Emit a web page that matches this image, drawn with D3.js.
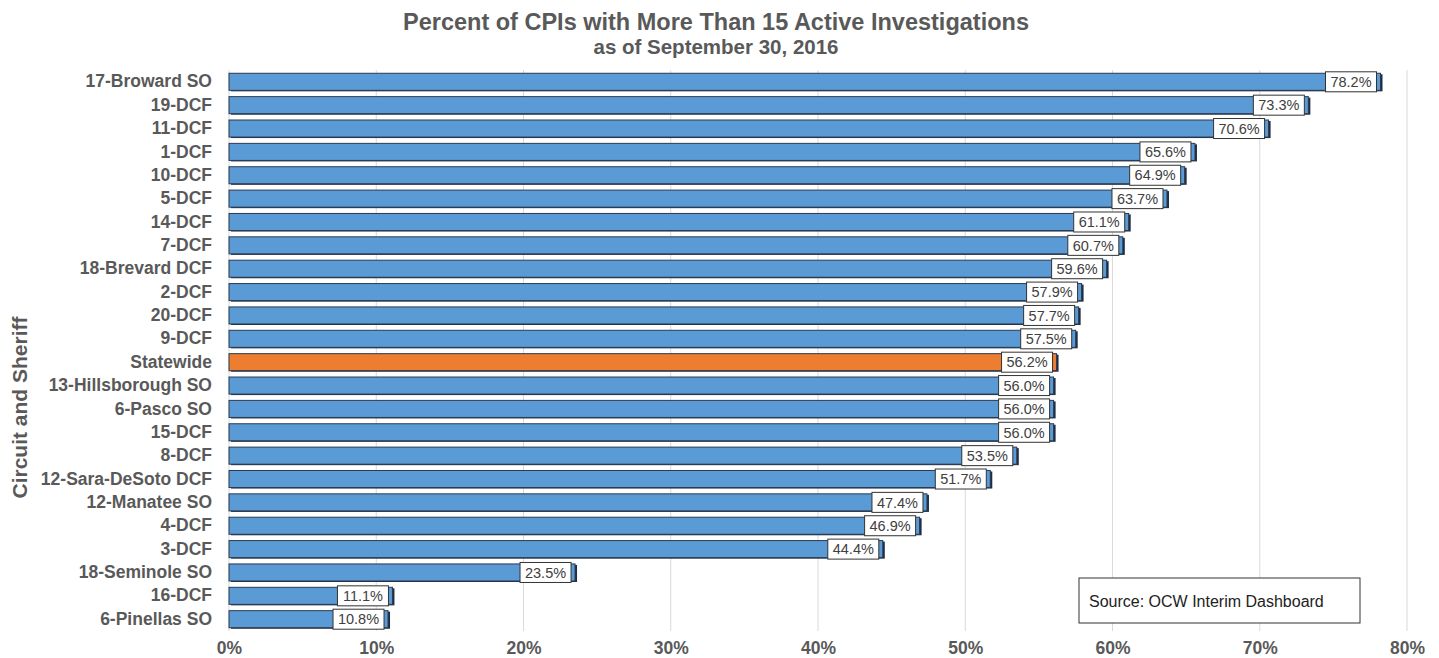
<!DOCTYPE html>
<html>
<head>
<meta charset="utf-8">
<script src="https://cdn.jsdelivr.net/npm/d3@7"></script>
<style>
  body { margin: 0; background: #fff; }
  text { font-family: Arial, "Liberation Sans", sans-serif; }
</style>
</head>
<body>
<div id="chart"></div>
<script>
const categories = [
    '17-Broward SO', '19-DCF', '11-DCF', '1-DCF', '10-DCF', '5-DCF', '14-DCF', '7-DCF',
    '18-Brevard DCF', '2-DCF', '20-DCF', '9-DCF', 'Statewide', '13-Hillsborough SO',
    '6-Pasco SO', '15-DCF', '8-DCF', '12-Sara-DeSoto DCF', '12-Manatee SO', '4-DCF',
    '3-DCF', '18-Seminole SO', '16-DCF', '6-Pinellas SO'
];
const values = [
    78.2, 73.3, 70.6, 65.6, 64.9, 63.7, 61.1, 60.7,
    59.6, 57.9, 57.7, 57.5, 56.2, 56.0,
    56.0, 56.0, 53.5, 51.7, 47.4, 46.9,
    44.4, 23.5, 11.1, 10.8
];
const xTicks = [0, 10, 20, 30, 40, 50, 60, 70, 80];
const highlight = 'Statewide';

const data = categories.map((name, i) => ({ name, value: values[i] }));

const width = 1439;
const height = 658;
const marginTop = 70;
const marginRight = 32;
const marginBottom = 27;
const marginLeft = 229;

const x = d3.scaleLinear()
    .domain([0, 80])
    .range([marginLeft, width - marginRight]);

const y = d3.scaleBand()
    .domain(categories)
    .range([marginTop, height - marginBottom])
    .paddingInner(0.27)
    .paddingOuter(0.14);

const svg = d3.select('#chart').append('svg')
    .attr('width', width)
    .attr('height', height)
    .attr('viewBox', [0, 0, width, height]);

// gridlines
svg.append('g')
    .selectAll('line')
    .data(xTicks)
    .join('line')
    .attr('x1', d => x(d))
    .attr('x2', d => x(d))
    .attr('y1', marginTop)
    .attr('y2', height - marginBottom)
    .attr('stroke', '#d9d9d9')
    .attr('stroke-width', 1);

// shadow behind bars
svg.append('g')
    .selectAll('rect')
    .data(data)
    .join('rect')
    .attr('x', x(0) + 2)
    .attr('y', d => y(d.name) + 1)
    .attr('width', d => x(d.value) - x(0))
    .attr('height', y.bandwidth())
    .attr('fill', '#1f2d44');

svg.append('g')
    .selectAll('rect')
    .data(data)
    .join('rect')
    .attr('x', x(0))
    .attr('y', d => y(d.name))
    .attr('width', d => x(d.value) - x(0))
    .attr('height', y.bandwidth())
    .attr('fill', d => d.name === highlight ? '#ed7d31' : '#5b9bd5')
    .attr('stroke', '#2b3a4f')
    .attr('stroke-width', 1);

// value labels
const labels = svg.append('g')
    .selectAll('g')
    .data(data)
    .join('g')
    .attr('transform', d => `translate(${x(d.value) - 4},${y(d.name) + y.bandwidth() / 2})`);

labels.append('rect')
    .attr('x', -51)
    .attr('y', -10)
    .attr('width', 51)
    .attr('height', 20)
    .attr('fill', '#fff')
    .attr('stroke', '#333')
    .attr('stroke-width', 1);

labels.append('text')
    .attr('x', -25.5)
    .attr('dy', '0.36em')
    .attr('text-anchor', 'middle')
    .attr('fill', '#404040')
    .style('font-size', '14.5px')
    .text(d => d.value.toFixed(1) + '%');

// y axis labels
svg.append('g')
    .attr('transform', `translate(${marginLeft - 17},0)`)
    .call(d3.axisLeft(y).tickSize(0).tickPadding(0))
    .call(g => g.select('.domain').remove())
    .call(g => g.selectAll('text')
        .attr('fill', '#595959')
        .style('font-size', '17.5px')
        .style('font-weight', 'bold'));

// x axis labels
svg.append('g')
    .attr('transform', `translate(0,${height - marginBottom})`)
    .call(d3.axisBottom(x).tickValues(xTicks).tickFormat(d => d + '%').tickSize(0).tickPadding(11))
    .call(g => g.select('.domain').remove())
    .call(g => g.selectAll('text')
        .attr('fill', '#595959')
        .style('font-size', '17.5px')
        .style('font-weight', 'bold'));

// axis title
svg.append('text')
    .attr('transform', `translate(27,${(marginTop + height - marginBottom) / 2 + 57}) rotate(-90)`)
    .attr('text-anchor', 'middle')
    .attr('fill', '#595959')
    .style('font-size', '21px')
    .style('font-weight', 'bold')
    .text('Circuit and Sheriff');

// title
svg.append('text')
    .attr('x', 716)
    .attr('y', 30)
    .attr('text-anchor', 'middle')
    .attr('fill', '#595959')
    .style('font-size', '23.5px')
    .style('font-weight', 'bold')
    .text('Percent of CPIs with More Than 15 Active Investigations');

svg.append('text')
    .attr('x', 716)
    .attr('y', 54)
    .attr('text-anchor', 'middle')
    .attr('fill', '#595959')
    .style('font-size', '20.5px')
    .style('font-weight', 'bold')
    .text('as of September 30, 2016');

// source box
const source = svg.append('g')
    .attr('transform', 'translate(1079,578)');
source.append('rect')
    .attr('width', 281)
    .attr('height', 45)
    .attr('fill', '#fff')
    .attr('stroke', '#333');
source.append('text')
    .attr('x', 10)
    .attr('y', 29)
    .attr('fill', '#222')
    .style('font-size', '16px')
    .text('Source: OCW Interim Dashboard');
</script>
</body>
</html>
